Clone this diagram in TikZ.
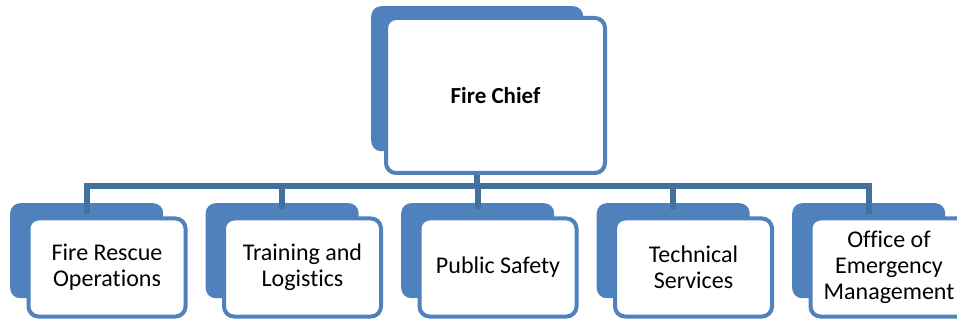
\documentclass[tikz,border=0pt]{standalone}
\usepackage{fontspec}
\setmainfont{Carlito}[Ligatures={NoCommon}]
\definecolor{boxblue}{HTML}{4F81BD}
\definecolor{busblue}{HTML}{41719C}
\tikzset{
  backbox/.style={rectangle, rounded corners=10pt, fill=boxblue, inner sep=0pt},
  frontbox/.style={rectangle, rounded corners=10pt, draw=boxblue, line width=4pt, fill=white,
    inner sep=0pt, align=center, font=\fontsize{24}{26}\selectfont},
  bus/.style={draw=busblue, line width=6pt}
}
\begin{document}
\begin{tikzpicture}[x=1pt,y=-1pt]
\clip (0,0) rectangle (957,320);
\fill[white] (0,0) rectangle (957,320);
% Fire Chief
\node[backbox, minimum width=212pt, minimum height=145pt, anchor=north west] (chiefback) at (371,6) {};
\node[frontbox, minimum width=219pt, minimum height=155pt, font=\fontsize{23}{26}\selectfont\bfseries] (chief) at (495.5,95.5) {Fire Chief};
% children
\foreach \i/\name/\txt in {0/c0/{Fire Rescue\\Operations},1/c1/{Training and\\Logistics},2/c2/{Public Safety},3/c3/{Technical\\Services},4/c4/{Office of\\Emergency\\Management}}{
  \pgfmathsetmacro{\xo}{10+195.5*\i}
  \node[backbox, minimum width=153pt, minimum height=95pt, anchor=north west] (\name back) at (\xo,203) {};
  \node[frontbox, minimum width=157pt, minimum height=98pt] (\name) at (\xo+97,267.5) {\txt};
}
% bus
\coordinate (busmid) at (chiefback.center |- 0,186);
\draw[bus] (chiefback.center |- chief.south) -- (busmid);
\draw[bus] ([yshift=-11pt]c0back.north) -- (c0back.north |- busmid) -- (c4back.north |- busmid) -- ([yshift=-11pt]c4back.north);
\foreach \n in {c1,c2,c3}{
  \draw[bus] (\n back.north |- busmid) -- ([yshift=-6pt]\n back.north);
}
\end{tikzpicture}
\end{document}
